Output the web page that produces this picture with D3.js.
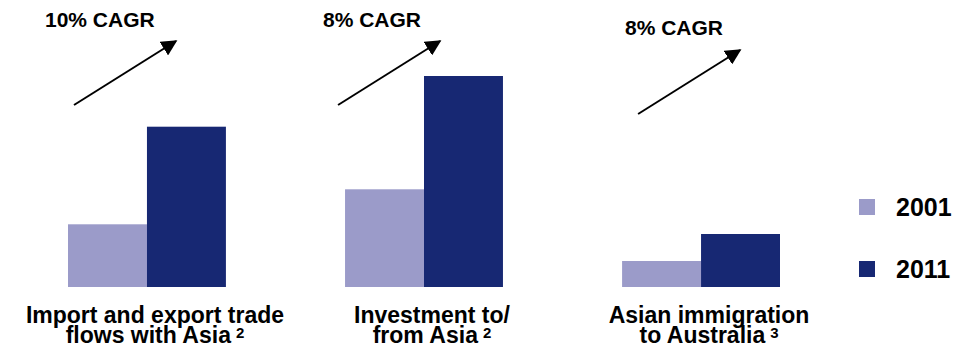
<!DOCTYPE html>
<html>
<head>
<meta charset="utf-8">
<script src="https://cdn.jsdelivr.net/npm/d3@7"></script>
<style>
  html, body { margin: 0; padding: 0; background: #fff; }
  svg { display: block; font-family: "Liberation Sans", Arial, Helvetica, sans-serif; font-weight: bold; }
</style>
</head>
<body>
<svg id="chart" width="970" height="348"></svg>
<script>
// Growth of Australia's ties with Asia, 2001 vs 2011 (relative index)
const categories = ["trade", "investment", "immigration"];
const labelLines = [
  ["Import and export trade", "flows with Asia"],
  ["Investment to/", "from Asia"],
  ["Asian immigration", "to Australia"]
];
const footnotes = ["2", "2", "3"];
const years = ["2001", "2011"];
const values2001 = [62.7, 97.7, 26];
const values2011 = [160.3, 211, 53];
const cagrLabels = ["10% CAGR", "8% CAGR", "8% CAGR"];

const colors = { "2001": "#9b9bc9", "2011": "#172873" };

// Annotation layout (arrow start/end offsets from the group's left edge, label anchor)
const annotationLayout = [
  { x1: 6,  y1: 105, x2: 108, y2: 41, tx: 45,  ty: 27 },
  { x1: -7, y1: 105, x2: 95,  y2: 41, tx: 323, ty: 27 },
  { x1: 16, y1: 114, x2: 118, y2: 50, tx: 625, ty: 35 }
];

const svg = d3.select("#chart");
const baseline = 287;

const x = d3.scaleBand()
  .domain(categories)
  .range([68, 780])
  .paddingInner(0.43)
  .paddingOuter(0);

const xInner = d3.scaleBand()
  .domain(years)
  .range([0, x.bandwidth()])
  .padding(0);

const y = d3.scaleLinear()
  .domain([0, 211])
  .range([baseline, 76]);

const rows = categories.map((c, i) => ({
  key: c,
  values: [
    { year: "2001", v: values2001[i] },
    { year: "2011", v: values2011[i] }
  ]
}));

// Bars
const groups = svg.append("g").selectAll("g")
  .data(rows)
  .join("g")
  .attr("transform", d => `translate(${x(d.key)},0)`);

groups.selectAll("rect")
  .data(d => d.values)
  .join("rect")
  .attr("x", d => xInner(d.year))
  .attr("y", d => y(d.v))
  .attr("width", xInner.bandwidth())
  .attr("height", d => y(0) - y(d.v))
  .attr("fill", d => colors[d.year]);

// Category labels (two lines) with footnote markers
const labelLayer = svg.append("g").attr("fill", "#000");
categories.forEach((c, i) => {
  const cx = x(c) + x.bandwidth() / 2 + 8;
  labelLayer.append("text")
    .attr("x", cx).attr("y", 323)
    .attr("text-anchor", "middle")
    .attr("font-size", 23)
    .text(labelLines[i][0]);
  const noteSize = 15;
  const gap = 5;
  const second = labelLayer.append("text")
    .attr("y", 343)
    .attr("font-size", 23)
    .text(labelLines[i][1]);
  const w = second.node().getComputedTextLength();
  const noteW = noteSize * 0.556;
  const left = cx - (w + gap + noteW) / 2;
  second.attr("x", left);
  labelLayer.append("text")
    .attr("x", left + w + gap)
    .attr("y", 338)
    .attr("font-size", noteSize)
    .text(footnotes[i]);
});

// Growth arrows with CAGR labels
const defs = svg.append("defs");
defs.append("marker")
  .attr("id", "head")
  .attr("viewBox", "0 0 10 10")
  .attr("refX", 9)
  .attr("refY", 5)
  .attr("markerWidth", 8)
  .attr("markerHeight", 8)
  .attr("markerUnits", "strokeWidth")
  .attr("orient", "auto")
  .append("path")
  .attr("d", "M0,0 L10,5 L0,10 Z")
  .attr("fill", "#000");

const ann = svg.append("g");
categories.forEach((c, i) => {
  const a = annotationLayout[i];
  const gx = x(c);
  ann.append("line")
    .attr("x1", gx + a.x1).attr("y1", a.y1)
    .attr("x2", gx + a.x2).attr("y2", a.y2)
    .attr("stroke", "#000")
    .attr("stroke-width", 2)
    .attr("marker-end", "url(#head)");
  ann.append("text")
    .attr("x", a.tx).attr("y", a.ty)
    .attr("font-size", 21)
    .attr("fill", "#000")
    .text(cagrLabels[i]);
});

// Legend
const legend = svg.append("g").selectAll("g")
  .data(years)
  .join("g")
  .attr("transform", (d, i) => `translate(859,${199 + i * 62})`);

legend.append("rect")
  .attr("width", 16)
  .attr("height", 16)
  .attr("fill", d => colors[d]);

legend.append("text")
  .attr("x", 37)
  .attr("y", 17)
  .attr("font-size", 25)
  .attr("fill", "#000")
  .text(d => d);
</script>
</body>
</html>
